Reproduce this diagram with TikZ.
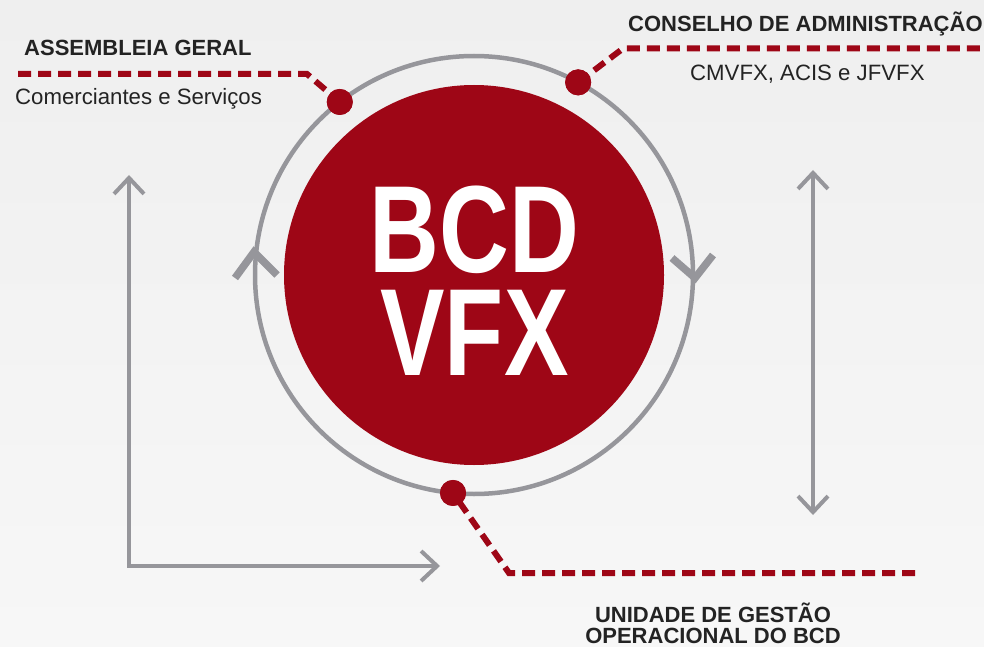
\documentclass[tikz,border=0pt]{standalone}
\usepackage{fontspec}
\setmainfont{Liberation Sans}
\usetikzlibrary{arrows.meta,calc}
\definecolor{bcdred}{RGB}{158,6,22}
\definecolor{ringgray}{RGB}{150,150,155}
\definecolor{txt}{RGB}{35,35,35}
\definecolor{bgtop}{RGB}{239,239,239}
\definecolor{bgbot}{RGB}{247,247,247}
\begin{document}
\begin{tikzpicture}[x=1pt,y=1pt,
  leader/.style={draw=bcdred, line width=6pt, dash pattern=on 13pt off 7pt},
  dot/.style={circle, fill=bcdred, minimum size=26pt, inner sep=0pt},
  core/.style={circle, fill=bcdred, minimum size=380pt, inner sep=0pt},
  ring/.style={draw=ringgray, line width=4.5pt},
  chev/.style={draw=ringgray, line width=7.5pt, line join=miter},
  flow/.style={draw=ringgray, line width=4pt},
  barb/.tip={Straight Barb[length=16pt,width=30pt]},
  head/.style={font=\bfseries\fontsize{22pt}{21pt}\selectfont, text=txt, inner sep=0pt, anchor=base west},
  sub/.style={font=\fontsize{22.2pt}{24pt}\selectfont, text=txt, inner sep=0pt, anchor=base west},
  big/.style={font=\bfseries\fontsize{124pt}{103pt}\selectfont, text=white, inner sep=0pt, anchor=base, align=center}
]
\shade[top color=bgtop, bottom color=bgbot] (0,0) rectangle (984,-647);
\useasboundingbox (0,0) rectangle (984,-647);

\coordinate (C) at (474,-275);
% ring and direction chevrons
\draw[ring] (C) circle[radius=219];
\draw[chev] (235,-278) -- (254,-252) -- (277,-275);
\draw[chev] (672,-258) -- (695,-278) -- (713,-255);

% flow arrows
\coordinate (lTop) at (129,-175);
\coordinate (lCorner) at (129,-566);
\coordinate (lRight) at (440,-566);
\draw[flow, barb-barb] (lTop) -- (lCorner) -- (lRight);
\coordinate (vTop) at (813,-170);
\coordinate (vBot) at (813,-515);
\draw[flow, barb-barb] (vTop) -- (vBot);

% dots on the ring
\node[dot] (dAG) at ($(C)+(127.8:219)$) {};
\node[dot] (dCA) at ($(C)+(61.6:219)$) {};
\node[dot] (dUG) at ($(C)+(264.5:219)$) {};

% leaders
\coordinate (agEnd) at (18,-74);
\coordinate (agBend) at (307,-74);
\coordinate (caBend) at (623,-48.5);
\coordinate (caEnd) at (984,-48.5);
\coordinate (ugEnd) at (915,-573);
\coordinate (ugBend) at (509,-573);
\draw[leader] (agEnd) -- (agBend) -- (dAG.center);
\draw[leader] (dCA.center) -- (caBend) -- (caEnd);
\draw[leader] (ugEnd) -- (ugBend) -- (dUG.center);
\node[dot] at (dAG) {};
\node[dot] at (dCA) {};
\node[dot] at (dUG) {};

% core
\node[core] (core) at (C) {};
\node[big] (title) at (474.5,-375) {\scalebox{0.78}[1]{BCD}\\\scalebox{0.78}[1]{VFX}};

% labels
\node[head] (ag) at (24,-56) {ASSEMBLEIA GERAL};
\node[sub] (ags) at (15,-105) {Comerciantes e Serviços};
\node[head] (ca) at (628,-32) {CONSELHO DE ADMINISTRAÇÃO};
\node[sub] (cas) at (690,-81) {CMVFX, ACIS e JFVFX};
\node[head, anchor=base] (ug1) at (713,-622) {UNIDADE DE GESTÃO};
\node[head, anchor=base] (ug2) at (713,-643) {OPERACIONAL DO BCD};
\end{tikzpicture}
\end{document}
